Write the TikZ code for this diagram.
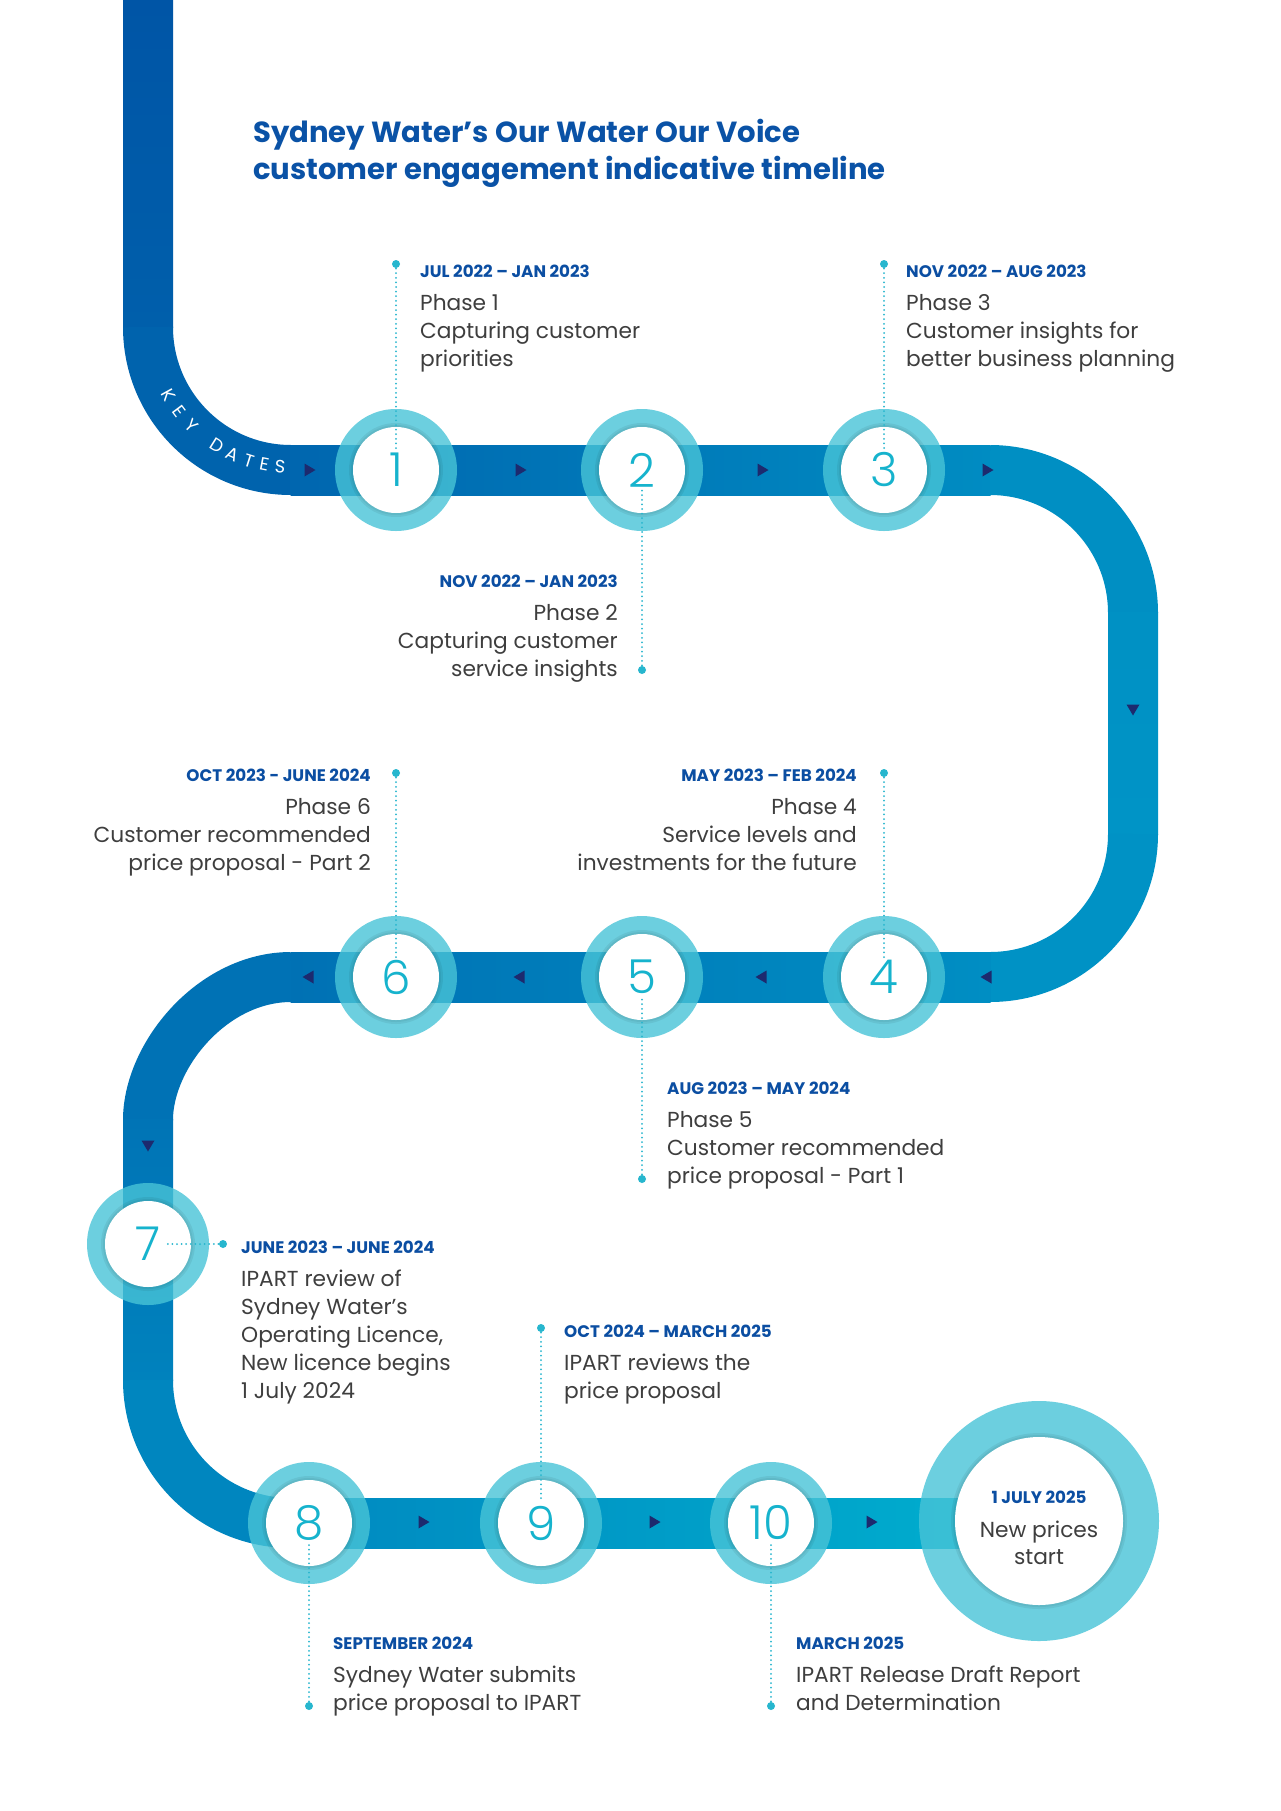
\documentclass[tikz,border=0pt]{standalone}
\usepackage{fontspec}
\setmainfont{Poppins}
\newfontfamily\numfamily{Poppins Light}
\newfontfamily\semifamily{Poppins SemiBold}
\newfontfamily\boldfamily{Poppins Bold}
\definecolor{ringc}{RGB}{72,196,215}
\definecolor{numc}{HTML}{16B3CD}
\definecolor{dotc}{HTML}{27B6CE}
\definecolor{arrowc}{HTML}{1D2A6E}
\definecolor{datec}{HTML}{0B4EA2}
\definecolor{titlec}{HTML}{0A52A6}
\definecolor{bodyc}{HTML}{3E3E3E}
\definecolor{cTopA}{HTML}{0055A6}
\definecolor{cTopB}{HTML}{005FAB}
\definecolor{cArcA}{HTML}{0063AD}
\definecolor{cRowAa}{HTML}{0066AF}
\definecolor{cRowAb}{HTML}{008CC2}
\definecolor{cArcB}{HTML}{008FC3}
\definecolor{cRtA}{HTML}{0091C4}
\definecolor{cRtB}{HTML}{0094C6}
\definecolor{cArcC}{HTML}{0092C5}
\definecolor{cRowBr}{HTML}{008EC3}
\definecolor{cRowBl}{HTML}{0071B4}
\definecolor{cArcD}{HTML}{0072B5}
\definecolor{cLfA}{HTML}{0074B6}
\definecolor{cLfB}{HTML}{0082BD}
\definecolor{cArcE}{HTML}{0086BF}
\definecolor{cRowCl}{HTML}{0089C0}
\definecolor{cRowCr}{HTML}{00B0CF}
\tikzset{
  bandarc/.style={line width=50bp, line cap=butt},
  dotline/.style={dotc, line width=2bp, line cap=round, dash pattern=on 0pt off 4.6bp},
  dotnode/.style={circle, fill=dotc, minimum size=8bp, inner sep=0pt},
  numtxt/.style={circle, fill=white, minimum size=86bp, inner sep=0pt, text=numc, font=\numfamily\fontsize{47}{47}\selectfont},
  datetxt/.style={inner sep=0pt, text=datec, font=\boldfamily\fontsize{16.8}{16.8}\selectfont},
  bodytxt/.style={inner sep=0pt, text=bodyc, font=\fontsize{21.8}{21.8}\selectfont},
  titletxt/.style={inner sep=0pt, text=titlec, font=\boldfamily\fontsize{29.2}{29.2}\selectfont},
  keytxt/.style={inner sep=0pt, text=white, font=\fontsize{18}{18}\selectfont}
}
\newcommand{\tlcircle}[4]{%
  \fill[ringc, opacity=.8] (#2,#3) circle (61);
  \fill[black, opacity=.06] (#2,#3) circle (47);
  \fill[black, opacity=.05] (#2,#3) circle (45);
  \node[numtxt] (#1) at (#2,#3) {#4};
}
\newcommand{\tri}[3]{%
  \fill[arrowc, shift={(#1,#2)}, rotate=#3] (-4.5,-6.5) -- (6.5,0) -- (-4.5,6.5) -- cycle;
}
\newcommand{\tlblock}[6]{%
  \node[datetxt, anchor=base #4] (#1d) at (#2,#3) {#5};
  \foreach \tline [count=\i] in {#6}
    \node[bodytxt, anchor=base #4] (#1l\i) at (#2,{#3+33+(\i-1)*28}) {\tline};
}
\begin{document}
\begin{tikzpicture}[x=1bp,y=-1bp]
\useasboundingbox[fill=white] (0,0) rectangle (1280,1811);
% ---- band ----
\shade[top color=cTopA, bottom color=cTopB] (123,-1) rectangle (173,327.5);
\draw[bandarc, cArcA] (148,327) .. controls (148,406) and (212,470) .. (291,470);
\shade[left color=cRowAa, right color=cRowAb] (290.5,445) rectangle (990.5,495);
\draw[bandarc, cArcB] (990,470) .. controls (1069,470) and (1133,534) .. (1133,613);
\shade[top color=cRtA, bottom color=cRtB] (1108,612.5) rectangle (1158,834.5);
\draw[bandarc, cArcC] (1133,834) .. controls (1133,913) and (1069,977) .. (990,977);
\shade[left color=cRowBl, right color=cRowBr] (290.5,952) rectangle (990.5,1002);
\draw[bandarc, cArcD] (291,977) .. controls (212,977) and (148,1056) .. (148,1120);
\shade[top color=cLfA, bottom color=cLfB] (123,1119.5) rectangle (173,1380.5);
\draw[bandarc, cArcE] (148,1380) .. controls (148,1459) and (212,1523) .. (291,1523);
\shade[left color=cRowCl, right color=cRowCr] (290.5,1498) rectangle (1039,1548);
% ---- KEY DATES ----
\foreach \ch/\a [count=\k] in {K/209,E/217,Y/225,D/238,A/245.5,T/252.5,E/259,S/265.5}
  \node[keytxt, rotate=\a+90] (key\k) at ({291+140*cos(\a)},{327-140*sin(\a)}) {\ch};
% ---- arrows ----
\tri{309}{470}{0}\tri{520}{470}{0}\tri{762}{470}{0}\tri{987}{470}{0}
\tri{1133}{709}{-90}
\tri{987}{977}{180}\tri{762}{977}{180}\tri{520}{977}{180}\tri{309}{977}{180}
\tri{148}{1145}{-90}
\tri{423}{1522}{0}\tri{654}{1522}{0}\tri{871}{1522}{0}
% ---- circles ----
\tlcircle{c1}{396}{470}{1}
\tlcircle{c2}{642}{470}{2}
\tlcircle{c3}{884}{470}{3}
\tlcircle{c4}{884}{977}{4}
\tlcircle{c5}{642}{977}{5}
\tlcircle{c6}{396}{977}{6}
\tlcircle{c7}{148}{1244}{7}
\tlcircle{c8}{309}{1523}{8}
\tlcircle{c9}{541}{1523}{9}
\tlcircle{c10}{771}{1523}{10}
\fill[ringc, opacity=.8] (1039,1521) circle (120);
\fill[black, opacity=.06] (1039,1521) circle (88);
\fill[black, opacity=.05] (1039,1521) circle (86);
\node[circle, fill=white, minimum size=168bp, inner sep=0pt] (c11) at (1039,1521) {};
% ---- dots and dotted leaders ----
\node[dotnode] (d1) at (396,264) {};
\node[dotnode] (d2) at (642,670) {};
\node[dotnode] (d3) at (884,264) {};
\node[dotnode] (d4) at (884,773) {};
\node[dotnode] (d5) at (642,1179) {};
\node[dotnode] (d6) at (396,773) {};
\node[dotnode] (d7) at (223,1244) {};
\node[dotnode] (d8) at (309,1706) {};
\node[dotnode] (d9) at (541,1328) {};
\node[dotnode] (d10) at (771,1706) {};
\draw[dotline, shorten >=19bp] (d1.center) -- (c1.center);
\draw[dotline, shorten >=19bp] (d2.center) -- (c2.center);
\draw[dotline, shorten >=19bp] (d3.center) -- (c3.center);
\draw[dotline, shorten >=19bp] (d4.center) -- (c4.center);
\draw[dotline, shorten >=19bp] (d5.center) -- (c5.center);
\draw[dotline, shorten >=19bp] (d6.center) -- (c6.center);
\draw[dotline, shorten >=18bp] (d7.center) -- (c7.center);
\draw[dotline, shorten >=21bp] (d8.center) -- (c8.center);
\draw[dotline, shorten >=21bp] (d9.center) -- (c9.center);
\draw[dotline, shorten >=21bp] (d10.center) -- (c10.center);
% ---- title ----
\node[titletxt, anchor=base west] (title1) at (253,142) {Sydney Water’s Our Water Our Voice};
\node[titletxt, anchor=base west] (title2) at (253,179) {customer engagement indicative timeline};
% ---- text blocks ----
\tlblock{p1}{420}{277}{west}{JUL 2022 – JAN 2023}{Phase 1,Capturing customer,priorities}
\tlblock{p3}{906}{277}{west}{NOV 2022 – AUG 2023}{Phase 3,Customer insights for,better business planning}
\tlblock{p2}{618}{587}{east}{NOV 2022 – JAN 2023}{Phase 2,Capturing customer,service insights}
\tlblock{p6}{371}{781}{east}{OCT 2023 - JUNE 2024}{Phase 6,Customer recommended,price proposal - Part 2}
\tlblock{p4}{857}{781}{east}{MAY 2023 – FEB 2024}{Phase 4,Service levels and,investments for the future}
\tlblock{p5}{667}{1094}{west}{AUG 2023 – MAY 2024}{Phase 5,Customer recommended,price proposal - Part 1}
\tlblock{p7}{241}{1253}{west}{JUNE 2023 – JUNE 2024}{IPART review of,Sydney Water’s,{Operating Licence,},New licence begins,1 July 2024}
\tlblock{p9}{564}{1337}{west}{OCT 2024 – MARCH 2025}{IPART reviews the,price proposal}
\tlblock{p8}{333}{1649}{west}{SEPTEMBER 2024}{Sydney Water submits,price proposal to IPART}
\tlblock{p10}{796}{1649}{west}{MARCH 2025}{IPART Release Draft Report,and Determination}
\node[datetxt, anchor=base] (p11d) at (1039,1503) {1 JULY 2025};
\node[bodytxt, anchor=base] (p11l1) at (1039,1537) {New prices};
\node[bodytxt, anchor=base] (p11l2) at (1039,1564) {start};
\end{tikzpicture}
\end{document}
